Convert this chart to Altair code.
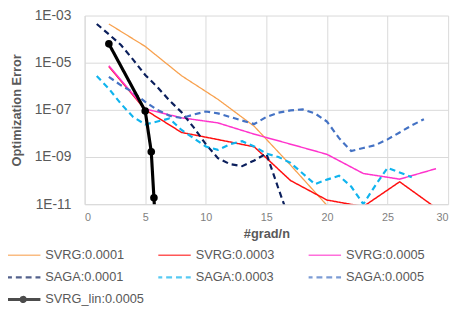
import altair as alt
import pandas as pd

# ---- data ----
svrg_1_x = [2, 5, 8, 11, 14, 17, 20]
svrg_1_y = [4.4e-4, 4.9e-5, 2.8e-6, 2.8e-7, 2.0e-8, 4.5e-10, 8.9e-12]

svrg_3_x = [2, 5, 8, 11, 14, 17, 20, 23, 26, 29]
svrg_3_y = [6.9e-6, 1.0e-7, 1.1e-8, 5.5e-9, 2.7e-9, 1.0e-10, 1.5e-11, 7.9e-12, 8.9e-11, 6.9e-12]

svrg_5_x = [2, 5, 8, 11, 14, 17, 20, 23, 26, 29]
svrg_5_y = [7.4e-6, 1.1e-7, 4.6e-8, 2.8e-8, 9.3e-9, 3.5e-9, 1.3e-9, 2.0e-10, 1.15e-10, 3.2e-10]

saga_1_x = list(range(1, 18))
saga_1_y = [4.4e-4, 1.6e-4, 5.6e-5, 1.35e-5, 3.0e-6, 9.3e-7, 2.5e-7, 7.9e-8, 1.8e-8,
            3.5e-9, 8.9e-10, 5.0e-10, 4.1e-10, 7.1e-10, 1.4e-9, 4.5e-11, 1.6e-12]

saga_3_x = list(range(1, 28))
saga_3_y = [2.7e-6, 7.9e-7, 1.8e-7, 5.0e-8, 2.4e-8, 3.2e-8, 4.3e-8, 1.4e-8, 6.3e-9,
            2.8e-9, 2.0e-9, 3.5e-9, 4.7e-9, 2.8e-9, 1.4e-9, 1.0e-9, 5.6e-10, 2.0e-10,
            7.1e-11, 1.1e-10, 1.6e-10, 5.6e-11, 1.0e-11, 6.3e-11, 3.5e-10, 2.2e-10, 1.4e-10]

saga_5_x = list(range(2, 29))
saga_5_y = [2.5e-6, 1.1e-6, 5.6e-7, 2.2e-7, 1.0e-7, 5.6e-8, 4.5e-8, 6.3e-8, 8.5e-8,
            7.1e-8, 5.0e-8, 3.5e-8, 2.5e-8, 5.0e-8, 7.6e-8, 9.5e-8, 1.05e-7, 7.1e-8,
            3.2e-8, 6.3e-9, 1.8e-9, 2.4e-9, 3.2e-9, 5.6e-9, 1.1e-8, 2.2e-8, 4.0e-8]

lin_x = [2, 5, 5.5, 5.72, 5.9]
lin_y = [6.3e-5, 8.9e-8, 1.66e-9, 1.86e-11, 5.0e-13]

names = ["SVRG:0.0001", "SVRG:0.0003", "SVRG:0.0005",
         "SAGA:0.0001", "SAGA:0.0003", "SAGA:0.0005", "SVRG_lin:0.0005"]
colors = ["#F8A14E", "#FF1010", "#FF33CC", "#0B1F5C", "#10B4EE", "#4472C4", "#000000"]
dashes = [[1, 0], [1, 0], [1, 0], [6, 4], [6, 4], [6, 4], [1, 0]]
widths = [1.3, 1.5, 1.5, 2.2, 2.2, 2.2, 3.2]
LINE_DOT = "M-1,0L1,0M-0.12,0A0.12,0.12,0,1,0,0.12,0A0.12,0.12,0,1,0,-0.12,0Z"
shapes = ["stroke"] * 6 + [LINE_DOT]

y_ticks = [1e-11, 1e-9, 1e-7, 1e-5, 1e-3]
x_ticks = [0, 5, 10, 15, 20, 25, 30]

series = [
    (names[0], svrg_1_x, svrg_1_y),
    (names[1], svrg_3_x, svrg_3_y),
    (names[2], svrg_5_x, svrg_5_y),
    (names[3], saga_1_x, saga_1_y),
    (names[4], saga_3_x, saga_3_y),
    (names[5], saga_5_x, saga_5_y),
    (names[6], lin_x, lin_y),
]
rows = []
for order, (name, xs, ys) in enumerate(series):
    for x, y in zip(xs, ys):
        rows.append({"series": name, "x": x, "y": y, "o": order})
df = pd.DataFrame(rows)

FONT = "Liberation Sans"
TXT = "#595959"

x_enc = alt.X("x:Q", scale=alt.Scale(domain=[0, 30], nice=False),
              axis=alt.Axis(values=x_ticks, title="#grad/n", grid=True))
y_enc = alt.Y("y:Q", scale=alt.Scale(type="log", domain=[1e-11, 1e-3], nice=False),
              axis=alt.Axis(values=y_ticks, title="Optimization Error", grid=True,
                            labelExpr="'1E-' + (round(-log(datum.value)/LN10) < 10 ? '0' : '') + round(-log(datum.value)/LN10)"))

color_enc = alt.Color("series:N", scale=alt.Scale(domain=names, range=colors), title=None)
dash_enc = alt.StrokeDash("series:N", scale=alt.Scale(domain=names, range=dashes), title=None)
width_enc = alt.StrokeWidth("series:N", scale=alt.Scale(type="ordinal", domain=names, range=widths), title=None)

lines = alt.Chart(df).mark_line(clip=True).encode(
    x=x_enc, y=y_enc, color=color_enc, strokeDash=dash_enc, strokeWidth=width_enc,
    order="o:Q",
)

pts = alt.Chart(df[df["series"] == names[6]]).mark_point(
    clip=True, filled=True, shape="circle", size=60, color="#000000", opacity=1
).encode(x=x_enc, y=y_enc)

# empty layer that only feeds the legend its symbol shapes
legend_layer = alt.Chart(df).transform_filter("false").mark_point(filled=False).encode(
    x=x_enc, y=y_enc, color=color_enc, strokeDash=dash_enc, strokeWidth=width_enc,
    shape=alt.Shape("series:N", scale=alt.Scale(domain=names, range=shapes), title=None),
)

chart = alt.layer(lines, pts, legend_layer).properties(
    width=370, height=192,
    autosize=alt.AutoSizeParams(type="none"),
    padding={"left": 78, "top": 5, "right": 7, "bottom": 102},
).configure_view(stroke=None).configure_axis(
    gridColor="#D9D9D9", domainColor="#D9D9D9", ticks=False,
    labelFont=FONT, titleFont=FONT, labelColor=TXT, titleColor=TXT,
    titleFontWeight="bold", titleFontSize=13,
).configure_axisY(
    labelFontSize=14, labelPadding=14, titlePadding=11,
).configure_axisX(
    labelFontSize=11, labelPadding=8, titlePadding=5, labelColor="#7F7F7F",
).configure_legend(
    orient="none", legendX=-78, legendY=233, columns=3, direction="horizontal",
    symbolType="stroke", symbolSize=1225, symbolOffset=-4, labelFont=FONT, labelFontSize=13,
    labelColor=TXT, labelLimit=300, labelOffset=3, columnPadding=14, rowPadding=0.5,
    clipHeight=22, gridAlign="all", padding=0,
)

chart.save("out.html", embed_options={"renderer": "svg", "actions": False})
